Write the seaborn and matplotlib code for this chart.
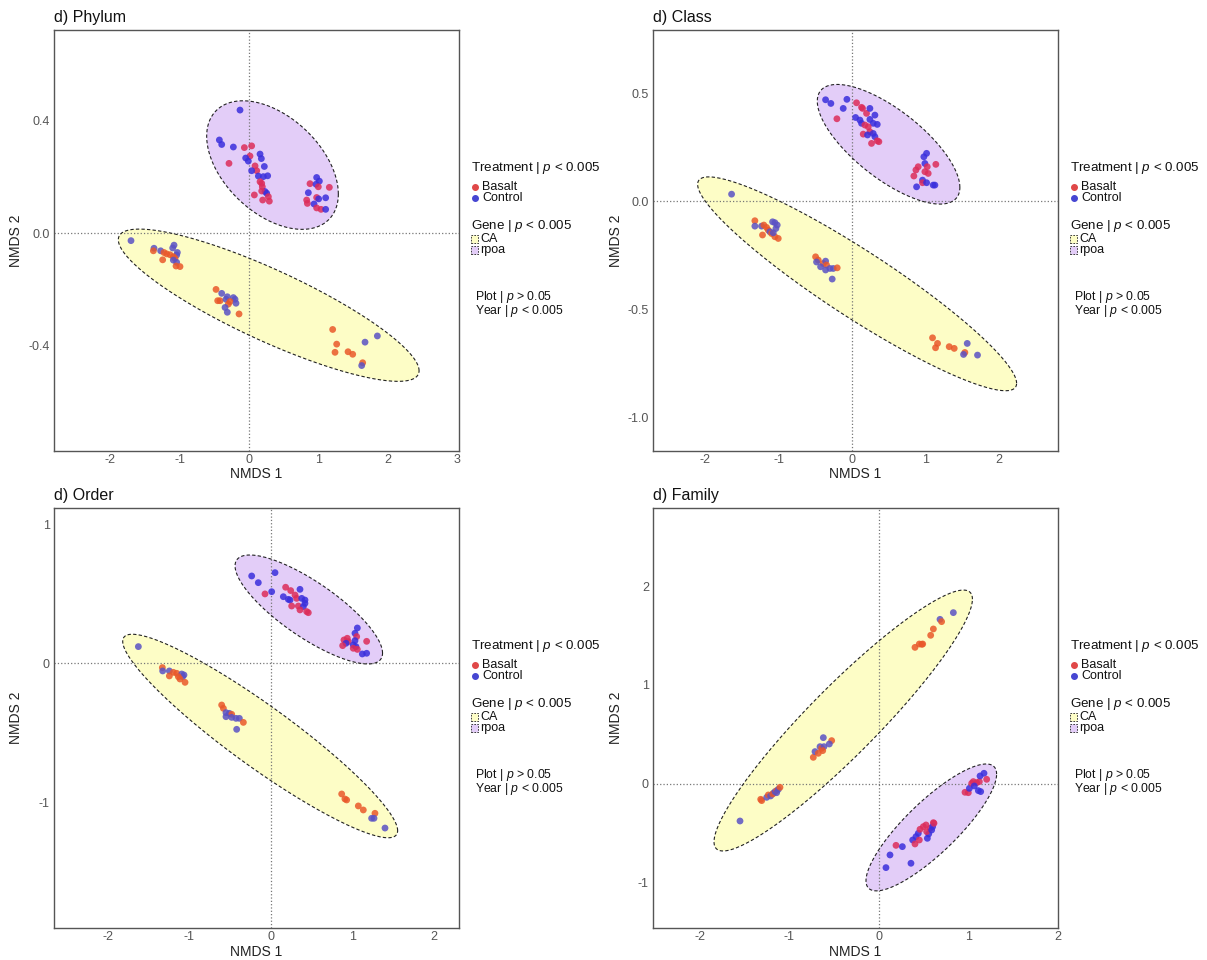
import numpy as np
import pandas as pd
import matplotlib
matplotlib.use("Agg")
import matplotlib.pyplot as plt
from matplotlib.patches import Rectangle
from matplotlib.lines import Line2D
import seaborn as sns

# ---------------- data ----------------
# treatment codes: R = Basalt, B = Control
phylum_ca_x = [-1.703, -1.371, -1.380, -1.275, -1.227, -1.082, -1.101, -1.034, -1.044, -1.140, -1.188, -1.092, -1.068, -1.246,
               -1.092, -1.044, -1.053, -0.996, -0.476, -0.394, -0.313, -0.452, -0.418, -0.332, -0.226, -0.202, -0.274, -0.188,
               -0.298, -0.346, -0.313, -0.144, 1.207, 1.265, 1.241, 1.429, 1.496, 1.674, 1.852, 1.640, 1.626]
phylum_ca_y = [-0.027, -0.054, -0.063, -0.063, -0.069, -0.043, -0.053, -0.069, -0.078, -0.077, -0.074, -0.084, -0.090, -0.095,
               -0.096, -0.104, -0.117, -0.119, -0.200, -0.214, -0.226, -0.240, -0.240, -0.235, -0.229, -0.235, -0.243, -0.249,
               -0.252, -0.264, -0.281, -0.287, -0.342, -0.394, -0.423, -0.421, -0.430, -0.387, -0.365, -0.460, -0.470]
phylum_ca_trt = "BBRBRBBBBRRRRRBBRRRBBRRBBBRBRBBRRRRRRBBRB"
phylum_rp_x = [-0.130, -0.428, -0.394, -0.226, -0.067, 0.038, 0.014, -0.048, -0.010, -0.289, 0.159, 0.178, 0.087, 0.221, 0.111,
               0.038, 0.135, 0.207, 0.269, 0.159, 0.183, 0.192, 0.231, 0.183, 0.077, 0.255, 0.279, 0.197, 0.293, 0.976, 1.015,
               0.880, 0.967, 1.000, 1.159, 0.856, 0.976, 1.005, 1.106, 0.832, 0.842, 0.938, 0.976, 1.039, 1.106]
phylum_rp_y = [0.436, 0.330, 0.314, 0.305, 0.303, 0.309, 0.273, 0.266, 0.255, 0.247, 0.280, 0.264, 0.238, 0.236, 0.221, 0.221,
               0.202, 0.200, 0.203, 0.182, 0.176, 0.164, 0.147, 0.149, 0.135, 0.141, 0.129, 0.117, 0.113, 0.197, 0.184, 0.175,
               0.173, 0.164, 0.162, 0.143, 0.126, 0.121, 0.125, 0.117, 0.105, 0.103, 0.089, 0.084, 0.084]
phylum_rp_trt = "BBBBRRRBBRBBRBRBBBBRRRBRRBRRRBBRBRRBRBBRRBRRB"

class_ca_x = [-1.641, -1.324, -1.324, -1.233, -1.202, -1.165, -1.083, -1.052, -1.020, -1.038, -1.143, -1.120, -1.220, -1.097,
              -1.052, -1.006, -1.074, -0.498, -0.462, -0.485, -0.394, -0.362, -0.349, -0.430, -0.362, -0.303, -0.258, -0.204,
              -0.272, 1.093, 1.161, 1.134, 1.320, 1.388, 1.565, 1.533, 1.515, 1.705]
class_ca_y = [0.032, -0.091, -0.116, -0.116, -0.111, -0.122, -0.096, -0.100, -0.111, -0.127, -0.134, -0.142, -0.157, -0.150,
              -0.165, -0.173, -0.147, -0.258, -0.273, -0.282, -0.289, -0.278, -0.296, -0.304, -0.319, -0.312, -0.312, -0.309,
              -0.361, -0.633, -0.659, -0.679, -0.674, -0.682, -0.659, -0.701, -0.710, -0.713]
class_ca_trt = "BRBBRRBBBBRBRRRRBRRBRBRBBBBRBRRRRRBRBB"
class_rp_x = [-0.362, -0.290, -0.072, -0.122, -0.208, 0.059, 0.127, 0.195, 0.241, 0.141, 0.046, 0.105, 0.127, 0.173, 0.241,
              0.309, 0.286, 0.218, 0.341, 0.150, 0.241, 0.209, 0.286, 0.309, 0.263, 0.341, 0.363, 1.012, 0.975, 0.989, 0.898,
              0.867, 1.021, 1.138, 0.989, 1.034, 0.839, 0.957, 0.957, 0.876, 1.012, 1.102, 1.125]
class_rp_y = [0.469, 0.452, 0.471, 0.429, 0.381, 0.455, 0.434, 0.406, 0.429, 0.429, 0.387, 0.375, 0.360, 0.352, 0.378, 0.398,
              0.360, 0.344, 0.355, 0.310, 0.321, 0.306, 0.313, 0.298, 0.267, 0.279, 0.275, 0.221, 0.205, 0.174, 0.159, 0.144,
              0.159, 0.170, 0.136, 0.128, 0.116, 0.097, 0.085, 0.066, 0.085, 0.074, 0.074]
class_rp_trt = "BBBBRRRRBRBBBRBBBRBRRBBBRRRBBBRRRRRRRBRBBBB"

order_ca_x = [-1.622, -1.328, -1.324, -1.242, -1.193, -1.152, -1.091, -1.063, -1.079, -1.242, -1.132, -1.112, -1.050, -0.601,
              -0.580, -0.548, -0.507, -0.478, -0.548, -0.478, -0.425, -0.384, -0.335, -0.417, 0.870, 0.910, 0.931, 1.074,
              1.135, 1.278, 1.237, 1.266, 1.401]
order_ca_y = [0.120, -0.031, -0.055, -0.055, -0.065, -0.072, -0.077, -0.084, -0.096, -0.091, -0.096, -0.113, -0.137, -0.300,
              -0.324, -0.355, -0.360, -0.367, -0.384, -0.389, -0.396, -0.396, -0.425, -0.475, -0.940, -0.976, -0.983, -1.026,
              -1.055, -1.079, -1.115, -1.115, -1.185]
order_ca_trt = "BRBBRRBBBRRRRRRBBRBBBBRBRRRRRRBBB"
order_rp_x = [-0.233, -0.152, 0.053, 0.012, -0.070, 0.183, 0.245, 0.359, 0.155, 0.216, 0.298, 0.237, 0.318, 0.380, 0.420, 0.420,
              0.257, 0.339, 0.400, 0.359, 0.441, 0.461, 1.062, 1.033, 1.054, 0.939, 0.898, 0.951, 0.923, 1.033, 1.012, 1.045,
              0.882, 1.012, 1.062, 1.176, 1.123, 1.176]
order_rp_y = [0.628, 0.580, 0.652, 0.515, 0.499, 0.547, 0.523, 0.532, 0.479, 0.460, 0.491, 0.455, 0.467, 0.467, 0.455, 0.431,
              0.412, 0.412, 0.408, 0.384, 0.372, 0.364, 0.254, 0.216, 0.192, 0.180, 0.168, 0.156, 0.144, 0.163, 0.132, 0.120,
              0.127, 0.108, 0.100, 0.158, 0.067, 0.072]
order_rp_trt = "BBBBRRRBBBRBRBBBRRBRRRBBRRRRBBBBRRRRBB"

family_ca_x = [-1.548, -1.317, -1.306, -1.250, -1.232, -1.206, -1.176, -1.183, -1.157, -1.139, -1.120, -1.102, -1.139, -0.730,
               -0.711, -0.674, -0.655, -0.637, -0.618, -0.611, -0.625, -0.525, -0.551, 0.405, 0.453, 0.480, 0.491, 0.580,
               0.610, 0.684, 0.702, 0.833]
family_ca_y = [-0.374, -0.155, -0.168, -0.135, -0.111, -0.121, -0.094, -0.101, -0.077, -0.067, -0.054, -0.034, -0.088, 0.269,
               0.327, 0.310, 0.377, 0.360, 0.468, 0.377, 0.337, 0.438, 0.404, 1.380, 1.414, 1.411, 1.414, 1.502, 1.566, 1.663,
               1.640, 1.731]
family_ca_trt = "BRRBRBBRBRBRBRBRBRBBRRBRRRRRRBRB"
family_rp_x = [0.081, 0.126, 0.193, 0.264, 0.360, 0.379, 0.405, 0.416, 0.453, 0.442, 0.461, 0.498, 0.528, 0.543, 0.558, 0.535,
               0.573, 0.591, 0.610, 0.602, 0.617, 0.963, 1.000, 1.012, 1.038, 1.056, 1.093, 1.123, 1.067, 1.112, 1.138, 1.131,
               1.175, 1.205]
family_rp_y = [-0.845, -0.717, -0.620, -0.633, -0.801, -0.566, -0.606, -0.532, -0.566, -0.498, -0.458, -0.431, -0.414, -0.549,
               -0.505, -0.481, -0.448, -0.465, -0.391, -0.431, -0.397, -0.084, -0.088, -0.044, 0.007, 0.024, 0.013, 0.024,
               -0.020, -0.067, -0.077, 0.081, 0.108, 0.047]
family_rp_trt = "BBRBBBRBRBRRRBBRRBRBRRRBRRRRBBBBBR"

# ellipse parameters: centre x, centre y, half-extent x, half-extent y, correlation
phylum_ell = {"CA": (0.284, -0.256, 2.17, 0.27, -0.86), "rpoa": (0.339, 0.241, 0.95, 0.228, -0.45)}
class_ell = {"CA": (0.067, -0.383, 2.17, 0.495, -0.93), "rpoa": (0.495, 0.263, 0.97, 0.277, -0.72)}
order_ell = {"CA": (-0.129, -0.523, 1.685, 0.732, -0.93), "rpoa": (0.467, 0.387, 0.904, 0.392, -0.80)}
family_ell = {"CA": (-0.396, 0.641, 1.442, 1.318, 0.93), "rpoa": (0.587, -0.439, 0.729, 0.641, 0.84)}

titles = ["d) Phylum", "d) Class", "d) Order", "d) Family"]
xlims = [(-2.814, 3.03), (-2.71, 2.80), (-2.656, 2.308), (-2.519, 2.001)]
ylims = [(-0.773, 0.72), (-1.157, 0.792), (-1.904, 1.117), (-1.455, 2.788)]
xticks = [[-2, -1, 0, 1, 2, 3], [-2, -1, 0, 1, 2], [-2, -1, 0, 1, 2], [-2, -1, 0, 1, 2]]
yticks = [[-0.4, 0.0, 0.4], [-1.0, -0.5, 0.0, 0.5], [-1, 0, 1], [-1, 0, 1, 2]]
yticklabels = [["-0.4", "0.0", "0.4"], ["-1.0", "-0.5", "0.0", "0.5"], ["-1", "0", "1"], ["-1", "0", "1", "2"]]

treatment_p = "Treatment | $p$ < 0.005"
gene_p = "Gene | $p$ < 0.005"
plot_p = "Plot | $p$ > 0.05"
year_p = "Year | $p$ < 0.005"

# ---------------- style ----------------
sns.set_style("white")
plt.rcParams["font.family"] = ["Liberation Sans", "DejaVu Sans"]
plt.rcParams["mathtext.fontset"] = "custom"
plt.rcParams["mathtext.rm"] = "Liberation Sans"
plt.rcParams["mathtext.it"] = "Liberation Sans:italic"
plt.rcParams["axes.unicode_minus"] = False

point_pal = {("Basalt", "CA"): "#e9582a", ("Basalt", "rpoa"): "#dc2d5a",
             ("Control", "CA"): "#5a52c4", ("Control", "rpoa"): "#3a2fdc"}
fill_col = {"CA": "#fdfdc6", "rpoa": "#e3cdf8"}

W, H = 1207, 960
fig = plt.figure(figsize=(W / 100, H / 100), dpi=100)

def fbox(l, t, r, b):
    return [l / W, 1 - b / H, (r - l) / W, (b - t) / H]

boxes = [fbox(54, 30, 459, 451), fbox(653, 30, 1058, 451), fbox(54, 508, 459, 928), fbox(653, 508, 1058, 928)]

panels = [
    (phylum_ca_x, phylum_ca_y, phylum_ca_trt, phylum_rp_x, phylum_rp_y, phylum_rp_trt, phylum_ell),
    (class_ca_x, class_ca_y, class_ca_trt, class_rp_x, class_rp_y, class_rp_trt, class_ell),
    (order_ca_x, order_ca_y, order_ca_trt, order_rp_x, order_rp_y, order_rp_trt, order_ell),
    (family_ca_x, family_ca_y, family_ca_trt, family_rp_x, family_rp_y, family_rp_trt, family_ell),
]

code = {"R": "Basalt", "B": "Control"}
tt = np.linspace(0, 2 * np.pi, 300)
pal = {f"{k[0]}|{k[1]}": v for k, v in point_pal.items()}

for i, (cax, cay, cat, rpx, rpy, rpt, ell) in enumerate(panels):
    ax = fig.add_axes(boxes[i])
    rows = []
    for xs, ys, ts, g in [(cax, cay, cat, "CA"), (rpx, rpy, rpt, "rpoa")]:
        for x, y, t in zip(xs, ys, ts):
            rows.append({"x": x, "y": y, "Treatment": code[t], "Gene": g})
    df = pd.DataFrame(rows)
    df["grp"] = df["Treatment"] + "|" + df["Gene"]

    ax.axhline(0, color="#777777", ls=":", lw=0.9, zorder=1)
    ax.axvline(0, color="#777777", ls=":", lw=0.9, zorder=1)
    for g in ["CA", "rpoa"]:
        cx, cy, wx, hy, rho = ell[g]
        ex = cx + wx * np.cos(tt)
        ey = cy + hy * (rho * np.cos(tt) + np.sqrt(1 - rho ** 2) * np.sin(tt))
        ax.fill(ex, ey, facecolor=fill_col[g], edgecolor="none", zorder=0.5)
        ax.plot(ex, ey, color="#222222", ls=(0, (3, 2)), lw=0.8, zorder=2)

    sns.scatterplot(data=df, x="x", y="y", hue="grp", palette=pal, s=24, alpha=0.85,
                    linewidth=0, ax=ax, legend=False, zorder=3)

    ax.set_xlim(*xlims[i])
    ax.set_ylim(*ylims[i])
    ax.set_xticks(xticks[i])
    ax.set_xticklabels([str(v) for v in xticks[i]])
    ax.set_yticks(yticks[i])
    ax.set_yticklabels(yticklabels[i])
    ax.tick_params(axis="y", length=0, labelsize=9, colors="#555555", pad=3)
    ax.tick_params(axis="x", length=0, labelsize=9, colors="#555555", pad=2)
    for sp in ax.spines.values():
        sp.set_color("#555555")
        sp.set_linewidth(1.0)
    ax.set_xlabel("NMDS 1", fontsize=10, color="#222222")
    ax.set_ylabel("NMDS 2", fontsize=10, color="#222222")
    top_row = i < 2
    ax.xaxis.set_label_coords(0.5, -0.038 if top_row else -0.040)
    ax.yaxis.set_label_coords(-0.0765 if i % 2 == 0 else -0.074, 0.5)
    ax.set_title(titles[i], loc="left", fontsize=11.5, pad=5.5, color="#111111")

    # legend block
    lx = 471 if i % 2 == 0 else 1070
    dy = 0 if top_row else 478

    def ft(x, y, s, size, **kw):
        fig.text(x / W, 1 - y / H, s, fontsize=size, va="center", ha="left", color="#111111", **kw)

    ft(lx, 168 + dy, treatment_p, 9.6)
    fig.add_artist(Line2D([(lx + 3.5) / W], [1 - (187 + dy) / H], marker="o", ms=4.0, color="#e04848", lw=0,
                          transform=fig.transFigure))
    fig.add_artist(Line2D([(lx + 3.5) / W], [1 - (198 + dy) / H], marker="o", ms=4.0, color="#4646d2", lw=0,
                          transform=fig.transFigure))
    ft(lx + 11, 187 + dy, "Basalt", 9)
    ft(lx + 11, 198 + dy, "Control", 9)
    ft(lx, 226 + dy, gene_p, 9.6)
    for g, yy in [("CA", 239), ("rpoa", 250)]:
        fig.add_artist(Rectangle((lx / W, 1 - (yy + dy + 4) / H), 7 / W, 8 / H, transform=fig.transFigure,
                                 facecolor=fill_col[g], edgecolor="#222222", ls=(0, (2, 1.5)), lw=0.6))
        ft(lx + 9, yy + dy, g, 9)
    ft(lx + 4, 297 + dy, plot_p, 8.8)
    ft(lx + 4, 311 + dy, year_p, 8.8)

fig.savefig("out.png", dpi=100)
